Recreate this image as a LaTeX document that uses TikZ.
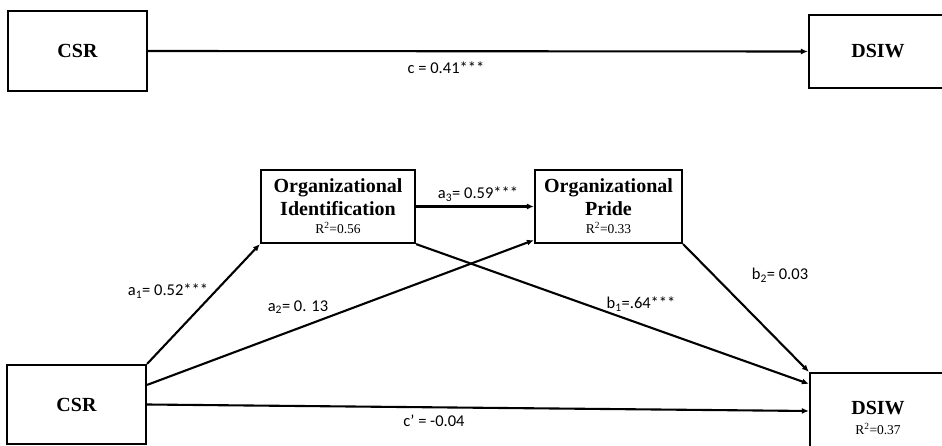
\documentclass[tikz,border=0pt]{standalone}
\usepackage{fontspec}
\setmainfont{Liberation Serif}
\newfontfamily\lblfont{Carlito}
\newcommand\rsqfont{\fontsize{13.5}{15}\selectfont\mdseries}
\usetikzlibrary{arrows.meta}
\begin{document}
\begin{tikzpicture}[x=1pt,y=-1pt,
  box/.style={draw,line width=2.2pt,inner sep=0pt,align=center,
    font=\fontsize{20}{23}\selectfont\bfseries},
  conn/.style={line width=2.1pt,-{Latex[length=7pt,width=6pt]}},
  lbl/.style={inner sep=0pt,font=\lblfont\fontsize{16.5}{19}\selectfont}]
\useasboundingbox (0,0) rectangle (942,446);
\begin{scope}
\clip (0,0) rectangle (942,446);
% top model
\node[box,minimum width=139pt,minimum height=80pt] (csrA) at (77.5,51) {CSR};
\node[box,minimum width=138pt,minimum height=73pt] (dsiwA) at (878,51.5) {DSIW};
\draw[conn] (csrA.east) -- (dsiwA.west);
\node[lbl] (lc) at (446,68) {c = 0.41***};
% bottom model
\node[box,minimum width=139pt,minimum height=79pt] (csrB) at (76.5,404.5) {CSR};
\node[box,minimum width=136pt,minimum height=90pt] (dsiwB) at (878,418) {DSIW\\[-3pt]{\rsqfont R\textsuperscript{2}=0.37}};
\node[box,minimum width=154pt,minimum height=73pt] (oi) at (338,206.5) {Organizational\\Identification\\[-5pt]{\rsqfont R\textsuperscript{2}=0.56}};
\node[box,minimum width=147pt,minimum height=73pt] (op) at (608.5,206.5) {Organizational\\Pride\\[-5pt]{\rsqfont R\textsuperscript{2}=0.33}};
\draw[conn] (oi.east) -- (op.west);
\draw[conn] (csrB.north east) -- (oi.south west);
\draw[conn] ([yshift=-21pt]csrB.north east) -- ([yshift=4pt]op.south west);
\draw[conn] (oi.south east) -- ([yshift=-12pt]dsiwB.north west);
\draw[conn] (op.south east) -- (dsiwB.north west);
\draw[conn] (csrB.east) -- ([yshift=7pt]dsiwB.west);
\node[lbl] (la3) at (478,194) {a\textsubscript{3}= 0.59***};
\node[lbl] (la1) at (168,291) {a\textsubscript{1}= 0.52***};
\node[lbl] (la2) at (298,307) {a\textsubscript{2}= 0. 13};
\node[lbl] (lb1) at (641,304) {b\textsubscript{1}=.64***};
\node[lbl] (lb2) at (780,275) {b\textsubscript{2}= 0.03};
\node[lbl] (lcp) at (434,421) {c’ = -0.04};
\end{scope}
\end{tikzpicture}
\end{document}
